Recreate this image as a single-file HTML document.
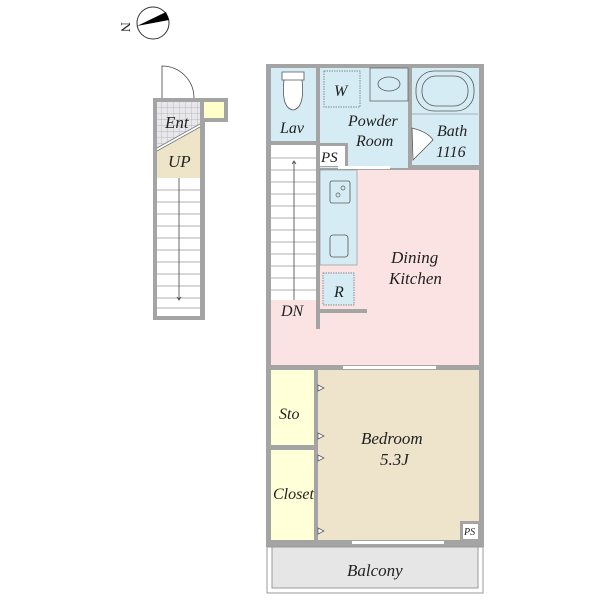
<!DOCTYPE html>
<html><head><meta charset="utf-8"><style>
html,body{margin:0;padding:0;background:#fff;width:600px;height:600px;overflow:hidden}
text{font-family:"Liberation Serif",serif;font-style:italic;fill:#222}
</style></head><body>
<svg width="600" height="600" viewBox="0 0 600 600" xmlns="http://www.w3.org/2000/svg">
<defs>
<pattern id="grid" width="6" height="6" patternUnits="userSpaceOnUse">
<rect width="6" height="6" fill="#e8e8ec"/><path d="M6 0V6M0 6H6" stroke="#aaa" stroke-width="0.7"/>
</pattern>
</defs>
<!-- compass -->
<circle cx="153" cy="23" r="16" fill="#fff" stroke="#333" stroke-width="1"/>
<polygon points="137,26 166,12 169,20" fill="#000"/>
<text x="0" y="0" font-size="14" transform="translate(121,22) rotate(90)" style="font-style:normal">N</text>

<!-- left stair unit -->
<path d="M162 100 V66 A32 32 0 0 1 194 98" fill="none" stroke="#444" stroke-width="0.8"/>
<rect x="153" y="98" width="52" height="222" fill="#a4a4a4"/>
<rect x="200" y="98" width="28" height="24" fill="#a4a4a4"/>
<rect x="204" y="102" width="20" height="16" fill="#ffffcc"/>
<rect x="157" y="102" width="43" height="214" fill="#fff"/>
<polygon points="157,102 200,102 200,124 157,148" fill="url(#grid)"/>
<polygon points="157,151 200,127 200,178 157,178" fill="#eee4c8"/>
<path d="M157 148 L200 124 M157 151 L200 127" stroke="#777" stroke-width="0.8"/>
<g stroke="#999" stroke-width="0.8">
<line x1="157" y1="190" x2="200" y2="190"/><line x1="157" y1="202" x2="200" y2="202"/>
<line x1="157" y1="214" x2="200" y2="214"/><line x1="157" y1="226" x2="200" y2="226"/>
<line x1="157" y1="238" x2="200" y2="238"/><line x1="157" y1="250" x2="200" y2="250"/>
<line x1="157" y1="262" x2="200" y2="262"/><line x1="157" y1="274" x2="200" y2="274"/>
<line x1="157" y1="286" x2="200" y2="286"/><line x1="157" y1="298" x2="200" y2="298"/>
<line x1="157" y1="308" x2="200" y2="308"/>
</g>
<line x1="179" y1="178" x2="179" y2="300" stroke="#444" stroke-width="0.8"/>
<path d="M177 297 L179 300 L181 297" fill="none" stroke="#444" stroke-width="0.8"/>
<text x="165" y="128" font-size="17">Ent</text>
<text x="168" y="167" font-size="17">UP</text>

<!-- main unit outer walls -->
<rect x="266" y="64" width="218" height="483" fill="#a4a4a4"/>
<!-- Lav -->
<rect x="271" y="68" width="45" height="73" fill="#d6ecf4"/>
<path d="M282 72 h22 v8 h-22z M284 80 q-3 28 9 30 q12 -2 9 -30" fill="#fff" stroke="#555" stroke-width="0.8"/>
<text x="280" y="133" font-size="16">Lav</text>
<!-- Powder room -->
<rect x="320" y="68" width="88" height="100" fill="#d6ecf4"/>
<rect x="324" y="71" width="36" height="36" fill="none" stroke="#666" stroke-width="0.7" stroke-dasharray="1.5 1"/>
<text x="334" y="96" font-size="16">W</text>
<rect x="370" y="68" width="38" height="33" fill="none" stroke="#666" stroke-width="0.8"/>
<ellipse cx="389" cy="84" rx="11" ry="7" fill="none" stroke="#555" stroke-width="0.8"/>
<text x="348" y="126" font-size="16">Powder</text>
<text x="356" y="146" font-size="16">Room</text>
<!-- PS -->
<rect x="318" y="143" width="30" height="24" fill="#a4a4a4"/>
<rect x="320" y="146" width="25" height="20" fill="#fff"/>
<text x="321" y="162" font-size="15">PS</text>
<!-- Bath -->
<rect x="412" y="68" width="67" height="97" fill="#d6ecf4"/>
<rect x="416" y="71" width="58" height="40" rx="18" fill="none" stroke="#555" stroke-width="0.8"/>
<rect x="422" y="76" width="46" height="30" rx="14" fill="none" stroke="#555" stroke-width="0.8"/>
<line x1="412" y1="114" x2="478" y2="114" stroke="#777" stroke-width="0.6"/>
<path d="M412 128 Q428 132 433 140 L413 160 Z" fill="#fff" stroke="#555" stroke-width="0.8"/>
<text x="437" y="136" font-size="16">Bath</text>
<text x="436" y="157" font-size="16">1116</text>
<!-- Dining Kitchen -->
<rect x="271" y="170" width="208" height="195" fill="#fbe3e4"/>
<rect x="271" y="145" width="45" height="155" fill="#fff"/>
<g stroke="#999" stroke-width="0.8">
<line x1="271" y1="158" x2="316" y2="158"/><line x1="271" y1="170" x2="316" y2="170"/>
<line x1="271" y1="182" x2="316" y2="182"/><line x1="271" y1="194" x2="316" y2="194"/>
<line x1="271" y1="206" x2="316" y2="206"/><line x1="271" y1="218" x2="316" y2="218"/>
<line x1="271" y1="230" x2="316" y2="230"/><line x1="271" y1="242" x2="316" y2="242"/>
<line x1="271" y1="254" x2="316" y2="254"/><line x1="271" y1="266" x2="316" y2="266"/>
<line x1="271" y1="278" x2="316" y2="278"/><line x1="271" y1="290" x2="316" y2="290"/>
</g>
<line x1="294" y1="162" x2="294" y2="300" stroke="#444" stroke-width="0.8"/>
<path d="M292 164 L294 161 L296 164" fill="none" stroke="#444" stroke-width="0.8"/>
<rect x="316" y="143" width="4" height="186" fill="#a4a4a4"/>
<rect x="316" y="309" width="51" height="4" fill="#a4a4a4"/>
<rect x="320" y="170" width="37" height="95" fill="#d6ecf4" stroke="#888" stroke-width="0.6"/>
<rect x="330" y="181" width="20" height="22" rx="2" fill="none" stroke="#555" stroke-width="0.8"/>
<circle cx="343" cy="188" r="2" fill="none" stroke="#555" stroke-width="0.7"/>
<circle cx="338" cy="195" r="2" fill="none" stroke="#555" stroke-width="0.7"/>
<rect x="330" y="235" width="18" height="22" rx="3" fill="none" stroke="#555" stroke-width="0.8"/>
<rect x="323" y="273" width="31" height="32" fill="#d6ecf4" stroke="#666" stroke-width="0.7" stroke-dasharray="1.5 1"/>
<text x="334" y="297" font-size="16">R</text>
<text x="391" y="263" font-size="17">Dining</text>
<text x="389" y="284" font-size="17">Kitchen</text>
<text x="281" y="316" font-size="16">DN</text>
<rect x="338" y="166" width="52" height="3" fill="#fff"/>
<!-- Sto / Closet / Bedroom -->
<rect x="271" y="370" width="43" height="75" fill="#ffffd8"/>
<rect x="271" y="450" width="43" height="90" fill="#ffffd8"/>
<rect x="318" y="370" width="161" height="170" fill="#eee4cc"/>
<rect x="460" y="521" width="19" height="19" fill="#a4a4a4"/>
<rect x="463" y="524" width="15" height="15" fill="#fff"/>
<text x="464" y="535" font-size="10">PS</text>
<rect x="343" y="366" width="93" height="3" fill="#fff"/>
<rect x="352" y="541" width="92" height="3" fill="#fff"/>
<g fill="#fff" stroke="#555" stroke-width="0.7">
<path d="M318 385 l6 3 l-6 3z"/><path d="M318 433 l6 3 l-6 3z"/>
<path d="M318 455 l6 3 l-6 3z"/><path d="M318 528 l6 3 l-6 3z"/>
</g>
<text x="279" y="419" font-size="16">Sto</text>
<text x="273" y="499" font-size="16">Closet</text>
<text x="361" y="444" font-size="17">Bedroom</text>
<text x="380" y="465" font-size="17">5.3J</text>
<!-- Balcony -->
<rect x="267" y="547" width="216" height="46" fill="#fff" stroke="#999" stroke-width="1"/>
<rect x="272" y="547" width="206" height="41" fill="#e6e6e6" stroke="#999" stroke-width="1"/>
<text x="347" y="576" font-size="17">Balcony</text>
</svg>
</body></html>
